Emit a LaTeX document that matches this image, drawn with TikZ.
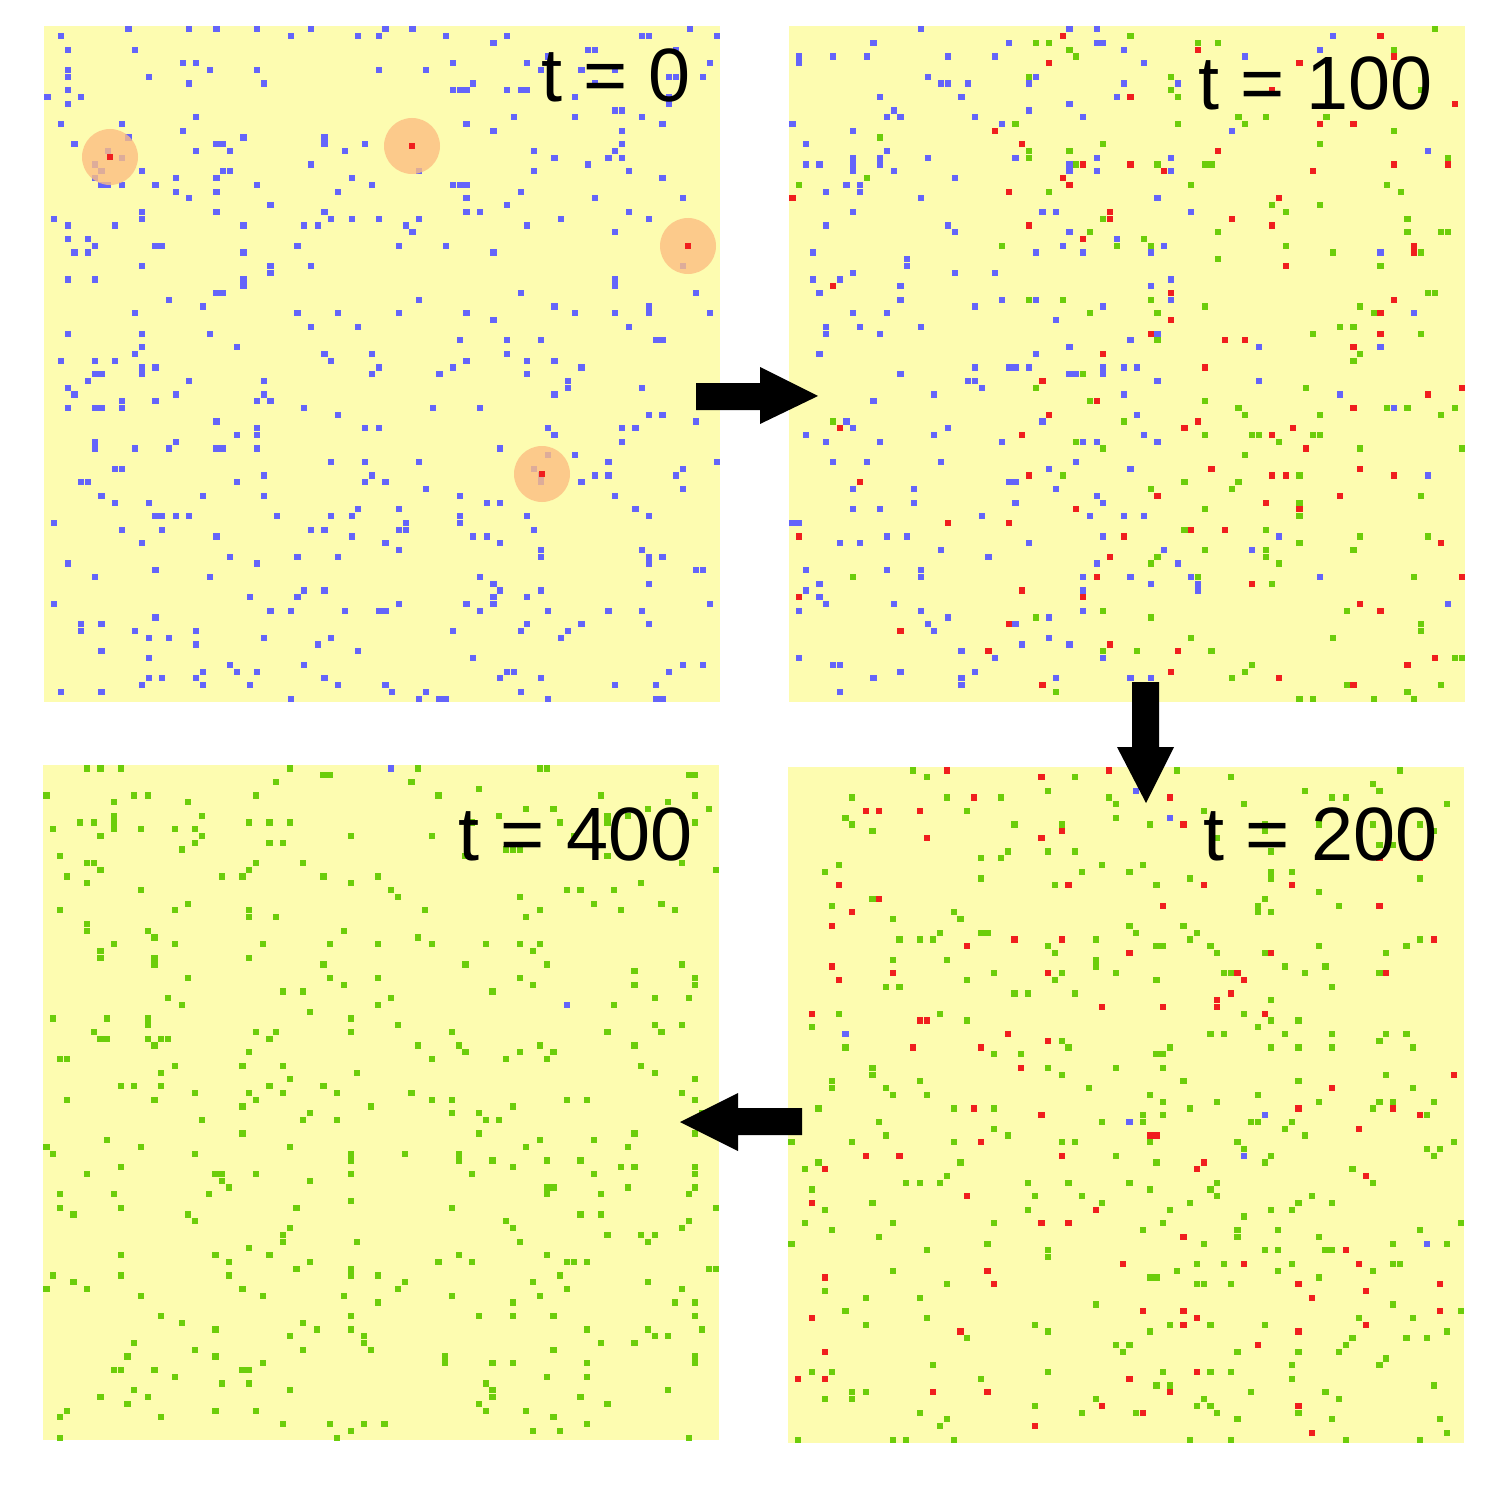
\documentclass[tikz,border=0pt]{standalone}
\usepackage{fontspec}
\setmainfont{Liberation Sans}
\definecolor{bgyel}{RGB}{253,252,176}
\definecolor{dblue}{RGB}{100,100,250}
\definecolor{dred}{RGB}{240,30,30}
\definecolor{dgreen}{RGB}{108,205,10}
\definecolor{halo}{RGB}{252,190,130}
\tikzset{
  panel/.style={fill=bgyel,draw=none},
  bigarrow/.style={fill=black,draw=none},
  label/.style={anchor=base east,font=\fontsize{21.5}{26}\selectfont,inner sep=0pt},
  halo/.style={fill=halo,opacity=0.8,draw=none}
}
% #1,#2 panel origin, #3 count, #4 colour, #5 first column, #6 last column
\newcommand\scatdots[6]{%
  \foreach \k in {1,...,#3}{%
    \pgfmathrandominteger{\ci}{#5}{#6}%
    \pgfmathrandominteger{\cj}{0}{99}%
    \fill[#4] ({#1+\ci*6.76+0.3},{#2+\cj*6.76+0.3}) rectangle ++(6.2,6.2);
  }%
}
\begin{document}
\begin{tikzpicture}[x=0.01cm,y=-0.01cm]
\useasboundingbox (0,0) rectangle (1500,1500);
\fill[white] (0,0) rectangle (1500,1500);
\pgfmathsetseed{4711}
% panels
\fill[panel] (44,26) rectangle (720,702);
\fill[panel] (789,26) rectangle (1465,702);
\fill[panel] (43,765) rectangle (719,1440);
\fill[panel] (788,767) rectangle (1464,1443);
% t = 0
\scatdots{44}{26}{440}{dblue}{0}{99}
\fill[halo] (110,157) circle (28);
\fill[halo] (412,146) circle (28);
\fill[halo] (688,246) circle (28);
\fill[halo] (542,474) circle (28);
\fill[dred] (107,154) rectangle ++(6.2,6.2);
\fill[dred] (409,143) rectangle ++(6.2,6.2);
\fill[dred] (685,243) rectangle ++(6.2,6.2);
\fill[dred] (539,471) rectangle ++(6.2,6.2);
% t = 100
\scatdots{789}{26}{170}{dblue}{0}{60}
\scatdots{789}{26}{70}{dblue}{0}{99}
\scatdots{789}{26}{80}{dred}{30}{99}
\scatdots{789}{26}{20}{dred}{0}{99}
\scatdots{789}{26}{130}{dgreen}{35}{99}
\scatdots{789}{26}{20}{dgreen}{0}{99}
% t = 200
\scatdots{788}{767}{360}{dgreen}{0}{99}
\scatdots{788}{767}{110}{dred}{0}{99}
\scatdots{788}{767}{7}{dblue}{0}{99}
% t = 400
\scatdots{43}{765}{420}{dgreen}{0}{99}
\scatdots{43}{765}{2}{dblue}{0}{99}
% labels
\node[label] (l0) at (691,102) {t = 0};
\node[label] (l100) at (1433,110) {t = 100};
\node[label] (l400) at (693,860) {t = 400};
\node[label] (l200) at (1438,860) {t = 200};
% arrows
\fill[bigarrow] (696,383) -- (760,383) -- (760,367) -- (818,396) -- (760,424) -- (760,410) -- (696,410) -- cycle;
\fill[bigarrow] (1132,682) -- (1159,682) -- (1159,747) -- (1174,747) -- (1146,803) -- (1117,747) -- (1132,747) -- cycle;
\fill[bigarrow] (802,1108) -- (738,1108) -- (738,1093) -- (680,1122) -- (738,1151) -- (738,1135) -- (802,1135) -- cycle;
\end{tikzpicture}
\end{document}
